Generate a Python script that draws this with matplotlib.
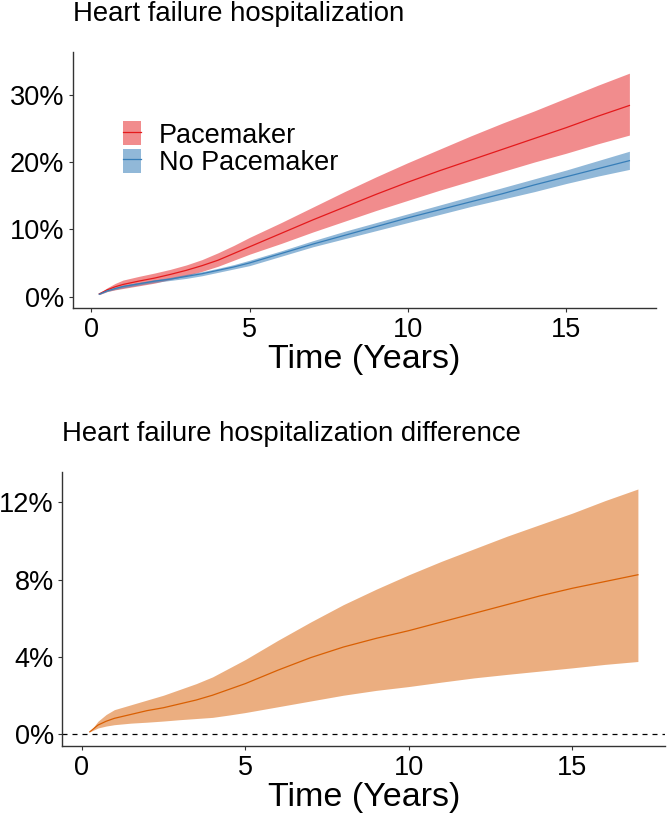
import numpy as np
import matplotlib
matplotlib.use('Agg')
import matplotlib.pyplot as plt
from matplotlib.patches import Patch
from matplotlib.lines import Line2D
from matplotlib.legend_handler import HandlerTuple
from matplotlib.ticker import FuncFormatter

plt.rcParams['font.family'] = ['Liberation Sans', 'DejaVu Sans']

# time grid (years)
years = [0.25, 0.5, 0.75, 1, 1.5, 2, 2.5, 3, 3.5, 4, 4.5, 5, 5.5, 6, 7, 8, 9, 10, 11, 12, 13, 14, 15, 16, 17]

# cumulative incidence (%), pacemaker
pace_mean = [0.4, 1.0, 1.45, 1.8, 2.3, 2.75, 3.3, 3.9, 4.6, 5.4, 6.4, 7.4, 8.4, 9.4, 11.4, 13.3, 15.2, 17.0, 18.7, 20.3, 21.9, 23.5, 25.1, 26.8, 28.4]
pace_hi = [0.5, 1.3, 1.95, 2.45, 3.0, 3.5, 4.05, 4.7, 5.5, 6.5, 7.6, 8.8, 9.9, 11.0, 13.3, 15.6, 17.8, 19.9, 21.9, 23.9, 25.8, 27.6, 29.5, 31.4, 33.2]
pace_lo = [0.3, 0.75, 1.0, 1.2, 1.6, 2.0, 2.55, 3.1, 3.75, 4.5, 5.4, 6.3, 7.1, 7.9, 9.6, 11.2, 12.8, 14.3, 15.8, 17.2, 18.6, 20.0, 21.3, 22.7, 24.0]

# no pacemaker
nopace_mean = [0.35, 0.85, 1.2, 1.5, 1.9, 2.3, 2.6, 3.0, 3.4, 3.9, 4.4, 5.0, 5.7, 6.4, 7.8, 9.1, 10.4, 11.7, 12.9, 14.1, 15.3, 16.6, 17.8, 19.0, 20.2]
nopace_hi = [0.4, 0.95, 1.35, 1.7, 2.1, 2.5, 2.85, 3.3, 3.7, 4.2, 4.75, 5.4, 6.1, 6.8, 8.3, 9.7, 11.0, 12.3, 13.6, 14.9, 16.2, 17.5, 18.8, 20.2, 21.6]
nopace_lo = [0.3, 0.75, 1.05, 1.3, 1.7, 2.1, 2.4, 2.7, 3.1, 3.6, 4.1, 4.6, 5.3, 6.0, 7.4, 8.6, 9.8, 11.0, 12.2, 13.4, 14.5, 15.6, 16.8, 17.9, 18.9]

# difference (%)
diff_mean = [0.1, 0.45, 0.65, 0.8, 1.0, 1.2, 1.35, 1.55, 1.75, 2.0, 2.3, 2.6, 2.95, 3.3, 3.95, 4.5, 4.95, 5.35, 5.8, 6.25, 6.7, 7.15, 7.55, 7.9, 8.25]
diff_hi = [0.1, 0.65, 1.0, 1.25, 1.5, 1.75, 2.0, 2.3, 2.6, 2.95, 3.4, 3.85, 4.35, 4.85, 5.8, 6.7, 7.5, 8.25, 8.95, 9.6, 10.25, 10.85, 11.45, 12.1, 12.7]
diff_lo = [0.1, 0.3, 0.4, 0.47, 0.55, 0.6, 0.66, 0.73, 0.79, 0.85, 0.97, 1.1, 1.25, 1.4, 1.7, 2.0, 2.25, 2.45, 2.68, 2.9, 3.08, 3.25, 3.42, 3.6, 3.75]

top_ticks = [0, 10, 20, 30]
bot_ticks = [0, 4, 8, 12]
x_ticks = [0, 5, 10, 15]

red, blue, orange = '#E41A1C', '#377EB8', '#D95F02'

fig = plt.figure(figsize=(6.68, 8.16), dpi=100)
ax1 = fig.add_axes([0.1088, 0.6222, 0.8732, 0.3145])
ax2 = fig.add_axes([0.0933, 0.0852, 0.9028, 0.3368])

pct = FuncFormatter(lambda v, p: '%d%%' % v)

def style(ax):
    for s in ['top', 'right']:
        ax.spines[s].set_visible(False)
    for s in ['left', 'bottom']:
        ax.spines[s].set_color('#333333')
        ax.spines[s].set_linewidth(1.0)
    ax.tick_params(length=3, width=0.8, color='#333333', labelsize=19.5, pad=3, labelcolor='black')
    ax.set_xticks(x_ticks)
    ax.set_xlim(-0.59, 17.84)
    ax.yaxis.set_major_formatter(pct)
    ax.set_xlabel('Time (Years)', fontsize=24.5, labelpad=1)

x = np.array(years)

ax1.fill_between(x, pace_lo, pace_hi, color=red, alpha=0.5, lw=0)
ax1.fill_between(x, nopace_lo, nopace_hi, color=blue, alpha=0.55, lw=0)
ax1.plot(x, pace_mean, color=red, lw=0.9)
ax1.plot(x, nopace_mean, color=blue, lw=0.9)
ax1.set_yticks(top_ticks)
ax1.set_ylim(-1.74, 36.4)
style(ax1)
ax1.set_title('Heart failure hospitalization', loc='left', fontsize=19.8, pad=22)

handles = [(Patch(facecolor=red, alpha=0.5, lw=0), Line2D([], [], color=red, lw=0.9)),
           (Patch(facecolor=blue, alpha=0.55, lw=0), Line2D([], [], color=blue, lw=0.9))]
ax1.legend(handles, ['Pacemaker', 'No Pacemaker'], handler_map={tuple: HandlerTuple(ndivide=1, pad=0)},
           loc='center left', bbox_to_anchor=(0.0857, 0.622), frameon=False, fontsize=19.5,
           handlelength=0.66, handleheight=0.98, handletextpad=0.68, labelspacing=0.0,
           borderpad=0, borderaxespad=0)

ax2.fill_between(x, diff_lo, diff_hi, color=orange, alpha=0.5, lw=0)
ax2.plot(x, diff_mean, color=orange, lw=0.9)
ax2.axhline(0, color='black', lw=0.9, ls=(0, (4, 4)))
ax2.set_yticks(bot_ticks)
ax2.set_ylim(-0.66, 13.6)
style(ax2)
ax2.set_title('Heart failure hospitalization difference', loc='left', fontsize=19.8, pad=22)

fig.savefig('out.png', dpi=100)
